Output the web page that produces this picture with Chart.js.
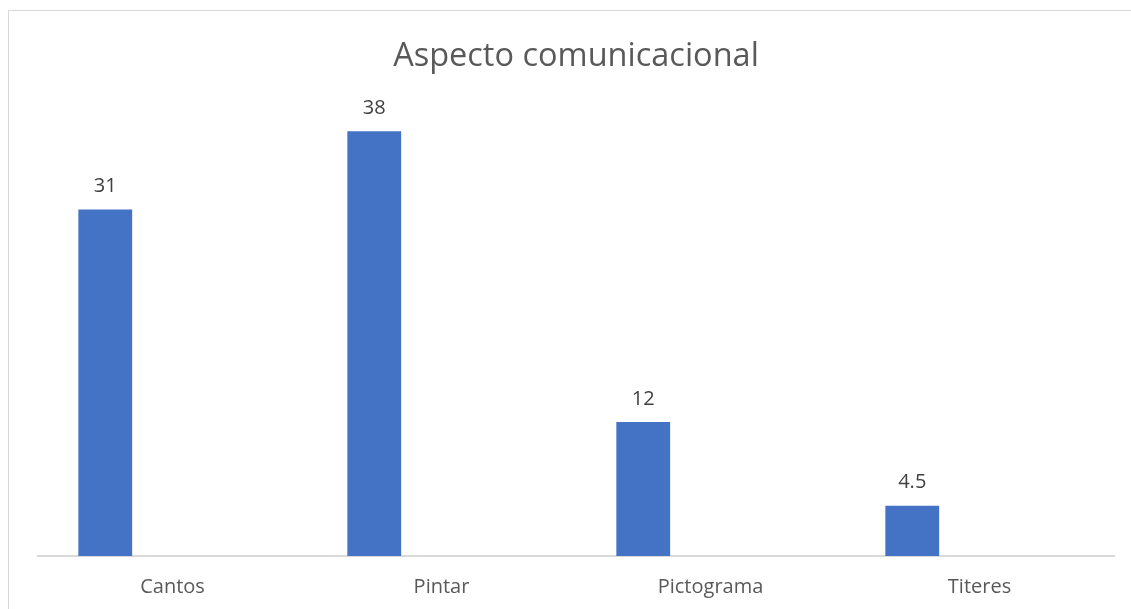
<!DOCTYPE html>
<html>
<head>
<meta charset="utf-8">
<script src="https://cdn.jsdelivr.net/npm/chart.js@4"></script>
<style>
html,body{margin:0;padding:0;background:#fff;}
#wrap{position:absolute;left:0;top:0;width:1131px;height:609px;overflow:hidden;}
#frame{position:absolute;left:8px;top:10px;width:1140px;height:620px;border:1px solid #d9d9d9;box-sizing:border-box;}
canvas{position:absolute;left:0;top:0;}
</style>
</head>
<body>
<div id="wrap"><div id="frame"></div><canvas id="c" width="1131" height="609"></canvas></div>
<script>
const titleText = "Aspecto comunicacional";
const categories = ["Cantos", "Pintar", "Pictograma", "Titeres"];
const values = [31, 38, 12, 4.5];
const valueLabels = ["31", "38", "12", "4.5"];
const emptySeries = [null, null, null, null];

const FONT = "'Open Sans', sans-serif";

const dataLabels = {
  id: 'dataLabels',
  afterDatasetsDraw(chart) {
    const ctx = chart.ctx;
    const meta = chart.getDatasetMeta(0);
    ctx.save();
    ctx.font = "20px " + FONT;
    ctx.fillStyle = "#404040";
    ctx.textAlign = "center";
    ctx.textBaseline = "middle";
    meta.data.forEach((bar, i) => {
      ctx.fillText(valueLabels[i], bar.x, bar.y - 23);
    });
    ctx.restore();
  }
};

new Chart(document.getElementById('c'), {
  type: 'bar',
  data: {
    labels: categories,
    datasets: [
      { data: values, backgroundColor: '#4472C4', categoryPercentage: 1, barPercentage: 0.4 },
      { data: emptySeries, backgroundColor: '#ED7D31', categoryPercentage: 1, barPercentage: 0.4 }
    ]
  },
  options: {
    responsive: false,
    animation: false,
    devicePixelRatio: 1,
    layout: { padding: { left: 38, right: 17, top: 0, bottom: 0 } },
    plugins: {
      legend: { display: false },
      tooltip: { enabled: false },
      title: {
        display: true,
        text: titleText,
        color: '#595959',
        font: { family: FONT, size: 32.5, weight: 'normal', lineHeight: 1.2 },
        padding: { top: 37.2, bottom: 32.8 }
      }
    },
    scales: {
      x: {
        grid: { display: false, drawTicks: false },
        border: { display: true, color: '#d9d9d9', width: 2 },
        ticks: { color: '#595959', font: { family: FONT, size: 20 }, padding: 19 },
        afterFit(scale) { scale.height = 53; }
      },
      y: {
        display: false,
        min: 0,
        max: 40
      }
    }
  },
  plugins: [dataLabels]
});
</script>
</body>
</html>
